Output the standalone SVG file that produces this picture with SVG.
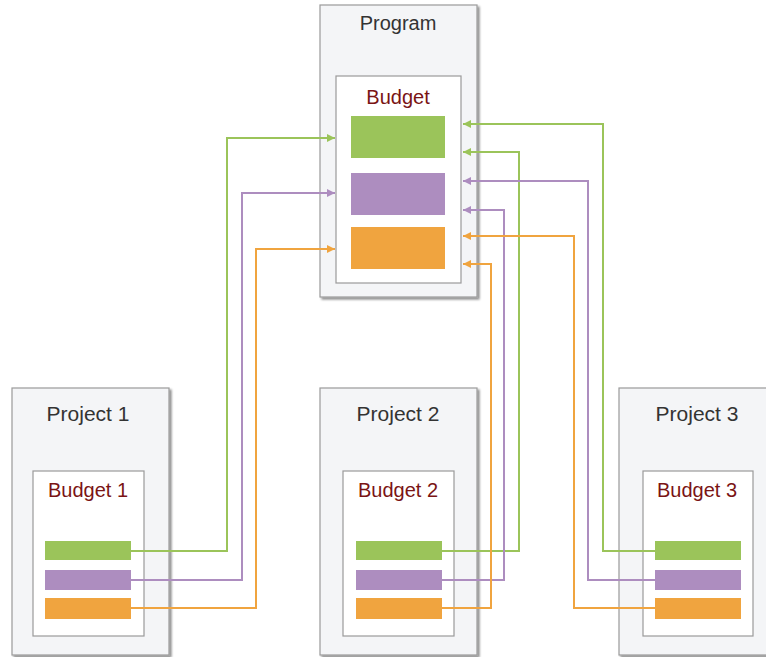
<svg xmlns="http://www.w3.org/2000/svg" width="766" height="657" viewBox="0 0 766 657">
  <style>
    .outer { fill: #f4f5f7; stroke: #9a9a9a; stroke-width: 1.2; }
    .inner { fill: #ffffff; stroke: #9a9a9a; stroke-width: 1.2; }
    .title { font-family: "Liberation Sans", Arial, sans-serif; font-size: 20px; fill: #333333; text-anchor: middle; }
    .ptitle { font-size: 21px; }
    .budget { font-family: "Liberation Sans", Arial, sans-serif; font-size: 20px; fill: #7a1414; text-anchor: middle; }
    .g { fill: #9bc45a; }
    .p { fill: #ad8dbf; }
    .o { fill: #f0a43f; }
    .link { fill: none; stroke-width: 2; }
    .lg { stroke: #9bc45a; }
    .lp { stroke: #ad8dbf; }
    .lo { stroke: #f0a43f; }
  </style>
  <defs>
    <filter id="shadow" x="-10%" y="-10%" width="130%" height="130%">
      <feGaussianBlur in="SourceAlpha" stdDeviation="1.2"/>
      <feOffset dx="2" dy="2" result="b"/>
      <feComponentTransfer><feFuncA type="linear" slope="0.45"/></feComponentTransfer>
      <feMerge><feMergeNode/><feMergeNode in="SourceGraphic"/></feMerge>
    </filter>
    <marker id="ag" viewBox="0 0 10 10" refX="10" refY="5" markerWidth="10" markerHeight="8" markerUnits="userSpaceOnUse" orient="auto">
      <path d="M0,0 L10,5 L0,10 z" fill="#9bc45a"/>
    </marker>
    <marker id="ap" viewBox="0 0 10 10" refX="10" refY="5" markerWidth="10" markerHeight="8" markerUnits="userSpaceOnUse" orient="auto">
      <path d="M0,0 L10,5 L0,10 z" fill="#ad8dbf"/>
    </marker>
    <marker id="ao" viewBox="0 0 10 10" refX="10" refY="5" markerWidth="10" markerHeight="8" markerUnits="userSpaceOnUse" orient="auto">
      <path d="M0,0 L10,5 L0,10 z" fill="#f0a43f"/>
    </marker>
  </defs>

  <!-- Program -->
  <g id="program">
    <rect class="outer" x="320" y="5" width="157" height="292" filter="url(#shadow)"/>
    <text class="title" x="398" y="30">Program</text>
    <rect class="inner" x="336" y="76" width="125" height="207"/>
    <text class="budget" x="398" y="104">Budget</text>
    <rect class="g" x="351" y="116" width="94" height="42"/>
    <rect class="p" x="351" y="173" width="94" height="42"/>
    <rect class="o" x="351" y="227" width="94" height="42"/>
  </g>

  <!-- Project 1 -->
  <g id="project1">
    <rect class="outer" x="12" y="388" width="157" height="267" filter="url(#shadow)"/>
    <text class="title ptitle" x="88" y="421">Project 1</text>
    <rect class="inner" x="33" y="471" width="111" height="165"/>
    <text class="budget" x="88" y="497">Budget 1</text>
    <rect class="g" x="45" y="541" width="86" height="19"/>
    <rect class="p" x="45" y="570" width="86" height="20"/>
    <rect class="o" x="45" y="598" width="86" height="21"/>
  </g>

  <!-- Project 2 -->
  <g id="project2">
    <rect class="outer" x="320" y="388" width="157" height="267" filter="url(#shadow)"/>
    <text class="title ptitle" x="398" y="421">Project 2</text>
    <rect class="inner" x="343" y="471" width="111" height="165"/>
    <text class="budget" x="398" y="497">Budget 2</text>
    <rect class="g" x="356" y="541" width="86" height="19"/>
    <rect class="p" x="356" y="570" width="86" height="20"/>
    <rect class="o" x="356" y="598" width="86" height="21"/>
  </g>

  <!-- Project 3 -->
  <g id="project3">
    <rect class="outer" x="619" y="388" width="158" height="267" filter="url(#shadow)"/>
    <text class="title ptitle" x="697" y="421">Project 3</text>
    <rect class="inner" x="643" y="471" width="110" height="165"/>
    <text class="budget" x="697" y="497">Budget 3</text>
    <rect class="g" x="655" y="541" width="86" height="19"/>
    <rect class="p" x="655" y="570" width="86" height="20"/>
    <rect class="o" x="655" y="598" width="86" height="21"/>
  </g>

  <!-- Roll-up connectors from project budgets into the program budget -->
  <g id="connectors">
    <path class="link lg" d="M131,551 H227 V138 H335" marker-end="url(#ag)"/>
    <path class="link lp" d="M131,580 H242 V193 H335" marker-end="url(#ap)"/>
    <path class="link lo" d="M131,608 H256 V249 H335" marker-end="url(#ao)"/>

    <path class="link lg" d="M442,551 H519 V152 H463" marker-end="url(#ag)"/>
    <path class="link lp" d="M442,580 H504 V210 H463" marker-end="url(#ap)"/>
    <path class="link lo" d="M442,608 H491 V264 H463" marker-end="url(#ao)"/>

    <path class="link lg" d="M655,551 H603 V124 H463" marker-end="url(#ag)"/>
    <path class="link lp" d="M655,580 H588 V181 H463" marker-end="url(#ap)"/>
    <path class="link lo" d="M655,608 H574 V236 H463" marker-end="url(#ao)"/>
  </g>
</svg>
